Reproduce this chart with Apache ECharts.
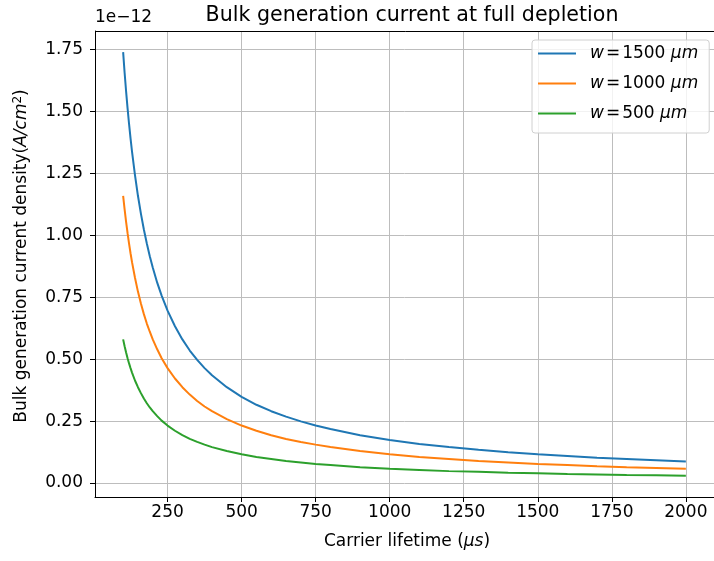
<!DOCTYPE html>
<html>
<head>
<meta charset="utf-8">
<script src="https://cdn.jsdelivr.net/npm/echarts@6/dist/echarts.min.js"></script>
<style>html,body{margin:0;padding:0;background:#fff;}#c{width:714px;height:561px;}</style>
</head>
<body>
<div id="c"></div>
<script>
// Carrier lifetime (µs)
const tau = [100,105,110,115,120,125,130,140,150,160,170,180,190,200,215,230,250,275,300,325,350,375,400,450,500,550,600,650,700,750,800,900,1000,1100,1200,1300,1400,1500,1600,1700,1800,1900,2000];
// Bulk generation current density, units of 1e-12 A/cm^2
const w1500 = [1.74,1.657,1.582,1.513,1.45,1.392,1.338,1.243,1.16,1.088,1.024,0.967,0.916,0.87,0.809,0.757,0.696,0.633,0.58,0.535,0.497,0.464,0.435,0.387,0.348,0.316,0.29,0.268,0.249,0.232,0.218,0.193,0.174,0.158,0.145,0.134,0.124,0.116,0.109,0.102,0.097,0.092,0.087];
const w1000 = [1.16,1.105,1.055,1.009,0.967,0.928,0.892,0.829,0.773,0.725,0.682,0.644,0.611,0.58,0.54,0.504,0.464,0.422,0.387,0.357,0.331,0.309,0.29,0.258,0.232,0.211,0.193,0.178,0.166,0.155,0.145,0.129,0.116,0.105,0.097,0.089,0.083,0.077,0.073,0.068,0.064,0.061,0.058];
const w500  = [0.58,0.552,0.527,0.504,0.483,0.464,0.446,0.414,0.387,0.363,0.341,0.322,0.305,0.29,0.27,0.252,0.232,0.211,0.193,0.178,0.166,0.155,0.145,0.129,0.116,0.105,0.097,0.089,0.083,0.077,0.073,0.064,0.058,0.053,0.048,0.045,0.041,0.039,0.036,0.034,0.032,0.031,0.029];
const seriesNames = ['w = 1500 μm','w = 1000 μm','w = 500 μm'];
const xTicks = [250,500,750,1000,1250,1500,1750,2000];
const yTicks = [0,0.25,0.5,0.75,1.0,1.25,1.5,1.75];
const colors = ['#1f77b4','#ff7f0e','#2ca02c'];

const font = 'DejaVu Sans';
const fs = 17;
const chart = echarts.init(document.getElementById('c'), null, {renderer:'canvas'});
function pair(ys){ return tau.map((t,i)=>[t, ys[i]]); }
const data = [w1500, w1000, w500];

chart.setOption({
  animation:false,
  backgroundColor:'#fff',
  textStyle:{fontFamily:font},
  color: colors,
  grid:{left:95, top:31, right:-6, bottom:64, containLabel:false},
  title:{
    text:'Bulk generation current at full depletion',
    left:407, top:0, textAlign:'center',
    textStyle:{fontFamily:font, fontSize:20.6, fontWeight:'normal', color:'#000'}
  },
  legend:{
    orient:'vertical', left:532, top:40,
    padding:[5,11,11,6], itemGap:13,
    itemWidth:38, itemHeight:2, icon:'rect',
    backgroundColor:'rgba(255,255,255,0.8)', borderColor:'#d0d0d0', borderWidth:1, borderRadius:3,
    data: seriesNames,
    formatter: function(n){
      const m = n.match(/w = (\d+) μm/);
      return '{i|w}{e|=}' + m[1] + ' {i|μm}';
    },
    textStyle:{fontFamily:font, fontSize:fs, color:'#000', padding:[0,0,0,9],
      rich:{i:{fontStyle:'italic', fontFamily:font, fontSize:fs, color:'#000'},
            e:{fontFamily:font, fontSize:fs, color:'#000', padding:[0,2,0,2]}}}
  },
  xAxis:{
    type:'value', min:5, max:2095,
    axisLine:{show:true, onZero:false, lineStyle:{color:'#000', width:1}},
    axisTick:{show:true, length:5, customValues:xTicks, lineStyle:{color:'#000'}},
    axisLabel:{customValues:xTicks, margin:7, fontFamily:font, fontSize:fs, color:'#000',
      formatter:v=>String(v)},
    splitLine:{show:true, customValues:xTicks, lineStyle:{color:'#bdbdbd', width:1}}
  },
  yAxis:{
    type:'value', min:-0.0565, max:1.8255,
    axisLine:{show:true, onZero:false, lineStyle:{color:'#000', width:1}},
    axisTick:{show:true, length:5, customValues:yTicks, lineStyle:{color:'#000'}},
    axisLabel:{customValues:yTicks, margin:12, fontFamily:font, fontSize:fs, color:'#000',
      formatter:v=>v.toFixed(2)},
    splitLine:{show:true, customValues:yTicks, lineStyle:{color:'#bdbdbd', width:1}}
  },
  graphic:[
    {type:'rect', shape:{x:95.5,y:31.5,width:625,height:466}, style:{fill:'none', stroke:'#000', lineWidth:1}, silent:true, z:50},
    {type:'text', left:95, top:9, style:{text:'1e−12', fontFamily:font, fontSize:fs, fill:'#000'}},
    {type:'text', x:407, y:542, style:{
      text:'Carrier lifetime ({i|μs})', fontFamily:font, fontSize:fs, fill:'#000',
      align:'center', verticalAlign:'middle',
      rich:{i:{fontStyle:'italic', fontFamily:font, fontSize:fs, fill:'#000'}}}},
    {type:'text', x:22, y:256, rotation:Math.PI/2, style:{
      text:'Bulk generation current density({i|A/cm}{s|2})', fontFamily:font, fontSize:fs, fill:'#000',
      align:'center', verticalAlign:'middle',
      rich:{i:{fontStyle:'italic', fontFamily:font, fontSize:fs, fill:'#000'},
            s:{fontFamily:font, fontSize:12, fill:'#000', verticalAlign:'top', padding:[0,0,8,0]}}}}
  ],
  series: seriesNames.map((n,k)=>({
    name:n, type:'line', data:pair(data[k]), showSymbol:false, symbol:'none',
    smooth:false,
    lineStyle:{width:2, color:colors[k]}, itemStyle:{color:colors[k]}, z:10
  }))
});
</script>
</body>
</html>
